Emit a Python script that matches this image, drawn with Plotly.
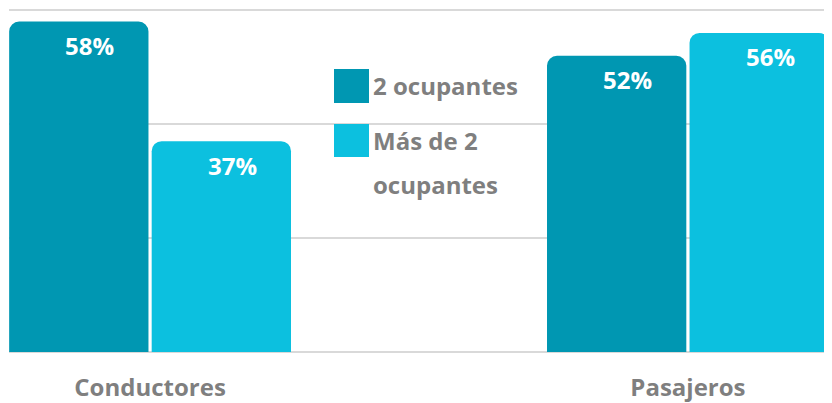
import plotly.graph_objects as go

categories = ["Conductores", "Pasajeros"]
series_names = ["2 ocupantes", "Más de 2<br>ocupantes"]
dos_ocupantes = [58, 52]
mas_de_dos = [37, 56]
colors = ["#0097B2", "#0CC0DF"]

# page body has an 8px margin, so the figure is laid out in shifted pixels
OFF = 8
W, H = 824, 395
ML, MR, MT, MB = 9 - OFF, 832 - 831, 9 - OFF, H - (352 - OFF)
PW, PH = W - ML - MR, H - MT - MB

def px(x):
    return (x - OFF - ML) / PW

def py(y):
    return (H - MB - (y - OFF)) / PH

xpos = [0, 1]
bw = 0.259
fig = go.Figure()
for i, (name, vals) in enumerate(zip(series_names, [dos_ocupantes, mas_de_dos])):
    fig.add_trace(go.Bar(
        x=xpos, y=vals, name=name.replace("<br>", " "),
        width=bw, offset=(-bw - 0.003) if i == 0 else 0.003,
        marker=dict(color=colors[i], cornerradius=10, line=dict(width=0)),
        showlegend=False, hoverinfo="skip",
    ))
    for xp, v in zip(xpos, vals):
        cx = xp + ((-bw / 2 - 0.003) if i == 0 else (bw / 2 + 0.003))
        fig.add_annotation(x=cx, y=v, xref="x", yref="y", text=f"<b>{v}%</b>",
                           showarrow=False, yanchor="middle", yshift=-24, xshift=11,
                           font=dict(family="Open Sans", size=24, color="white"))

# custom legend
leg_items = [(69, 103, 85, ["2 ocupantes"]), (124, 157, 140, ["Más de 2", "ocupantes"])]
for i, (y0, y1, ty, lines) in enumerate(leg_items):
    fig.add_shape(type="rect", xref="paper", yref="paper",
                  x0=px(334), x1=px(369), y0=py(y1), y1=py(y0),
                  fillcolor=colors[i], line=dict(width=0))
    for j, line in enumerate(lines):
        fig.add_annotation(xref="paper", yref="paper", x=px(371), y=py(ty + 44 * j),
                           xanchor="left", yanchor="middle", showarrow=False,
                           text=f"<b>{line}</b>",
                           font=dict(family="Open Sans", size=24, color="#7F7F7F"))

fig.update_layout(
    width=W, height=H,
    margin=dict(l=ML, r=MR, t=MT, b=MB, autoexpand=False),
    plot_bgcolor="white", paper_bgcolor="white",
    xaxis=dict(tickvals=xpos, ticktext=[f"<b>{c}</b>" for c in categories],
               range=[-0.2623, 1.266], showgrid=False, zeroline=False,
               showline=False, ticks="", ticklabelstandoff=19, automargin=False,
               tickfont=dict(family="Open Sans", size=24, color="#7F7F7F")),
    yaxis=dict(range=[0, 60.2], tickvals=[0, 20, 40, 60], showticklabels=False,
               showgrid=True, gridcolor="#D9D9D9", gridwidth=1.5, automargin=False,
               zeroline=True, zerolinecolor="#D9D9D9", zerolinewidth=1.5),
)
fig.write_html("out.html")
